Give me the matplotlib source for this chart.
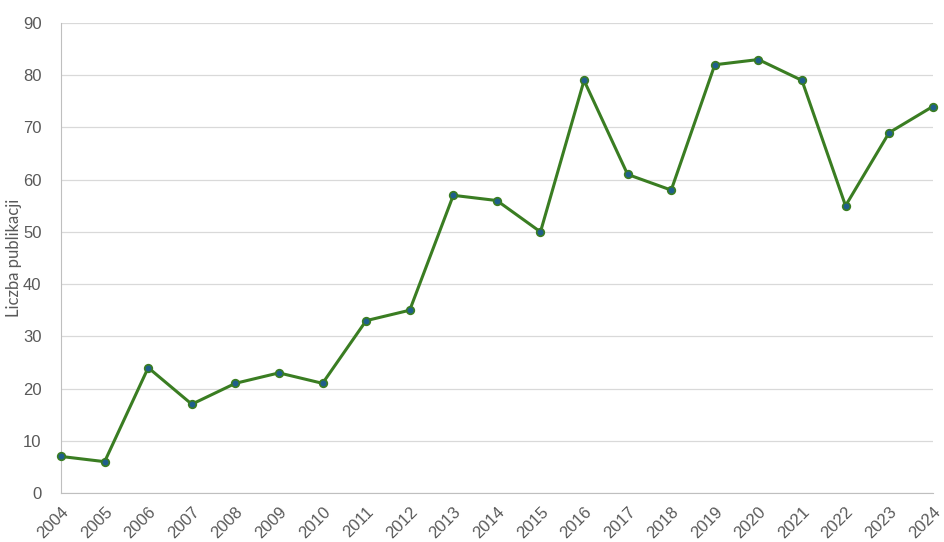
import matplotlib
matplotlib.use('Agg')
import matplotlib.pyplot as plt

years = [str(y) for y in range(2004, 2025)]
counts = [7, 6, 24, 17, 21, 23, 21, 33, 35, 57, 56, 50, 79, 61, 58, 82, 83, 79, 55, 69, 74]

fig = plt.figure(figsize=(9.45, 5.42), dpi=100)
ax = fig.add_axes([0.0646, 0.0904, 0.9224, 0.8672])

x = list(range(len(years)))
ax.plot(x, counts, color='#3a7d22', linewidth=2.2, marker='o', markersize=5.5,
        markerfacecolor='#1f5f8b', markeredgecolor='#3a7d22', markeredgewidth=1.2,
        clip_on=False, zorder=3)

ax.set_xlim(0, len(years) - 1)
ax.set_ylim(0, 90)
ax.set_yticks(range(0, 91, 10))
ax.set_xticks(x)
ax.set_xticklabels(years, rotation=45, ha='right', rotation_mode='anchor')

ax.grid(axis='y', color='#d9d9d9', linewidth=0.9)
ax.set_axisbelow(True)
for s in ['top', 'right']:
    ax.spines[s].set_visible(False)
for s in ['left', 'bottom']:
    ax.spines[s].set_color('#bfbfbf')
ax.tick_params(length=0, labelsize=12, labelcolor='#595959')
ax.tick_params(axis='y', pad=14)
ax.tick_params(axis='x', pad=8)
for lbl in ax.get_xticklabels() + ax.get_yticklabels():
    lbl.set_family('Liberation Sans')

ax.set_ylabel('Liczba publikacji', fontsize=12, color='#595959', family='Lato')
ax.yaxis.set_label_coords(-0.045, 0.5)

fig.savefig('out.png', dpi=100)
